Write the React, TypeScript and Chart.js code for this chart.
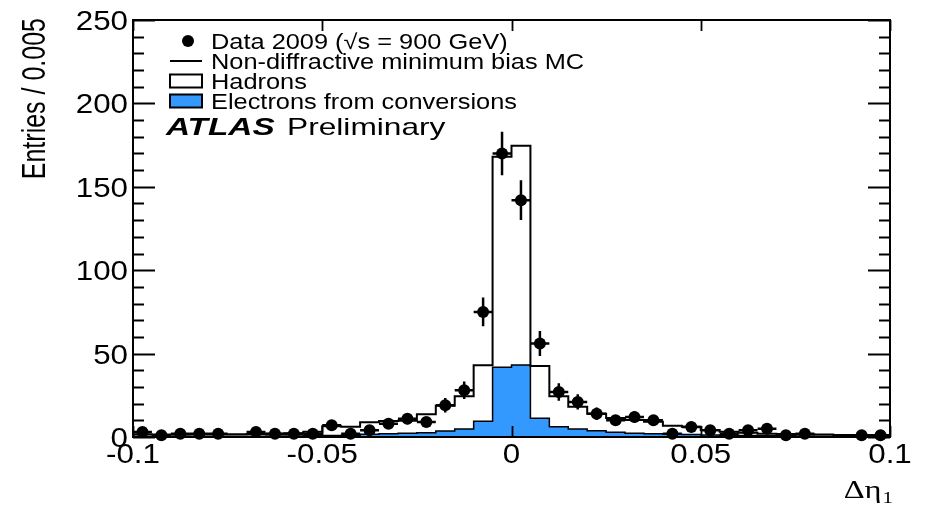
import React, { useEffect, useRef } from 'react';
import { Chart, registerables } from 'chart.js';

Chart.register(...registerables);

// ---------- data ----------
const binLowEdges = [
  -0.1, -0.095, -0.09, -0.085, -0.08, -0.075, -0.07, -0.065, -0.06, -0.055,
  -0.05, -0.045, -0.04, -0.035, -0.03, -0.025, -0.02, -0.015, -0.01, -0.005,
  0, 0.005, 0.01, 0.015, 0.02, 0.025, 0.03, 0.035, 0.04, 0.045,
  0.05, 0.055, 0.06, 0.065, 0.07, 0.075, 0.08, 0.085, 0.09, 0.095,
];
const binWidth = 0.005;
const xMin = -0.1;
const xMax = 0.1;
const yMin = 0;
const yMax = 250;

// Data 2009 (entries per bin, null = empty bin)
const dataCounts: (number | null)[] = [
  3, 1, 2, 2, 2, null, 3, 2, 2, 2,
  7, 2, 4, 8, 11, 9, 19, 28, 75, 170,
  142, 56, 27, 21, 14, 10, 12, 10, 2, 6,
  4, 2, 4, 5, 1, 2, null, null, 1, 1,
];

// Non-diffractive minimum bias MC (hadrons + electrons, stacked total)
const mcTotal = [
  1.6, 1.5, 1.5, 1.6, 1.6, 1.7, 1.8, 2.0, 2.2, 3.2,
  6.5, 6.2, 8.8, 9.6, 9.8, 13.6, 18.8, 24.4, 43.0, 168.0,
  174.6, 42.6, 24.4, 18.2, 14.0, 11.4, 10.2, 9.2, 6.8, 6.2,
  4.2, 3.2, 2.6, 2.0, 1.8, 1.6, 1.5, 1.2, 1.2, 1.1,
];

// Electrons from conversions
const mcElectrons = [
  0.4, 0.4, 0.4, 0.4, 0.4, 0.5, 0.5, 0.6, 0.6, 0.7,
  0.9, 1.1, 1.6, 2.0, 2.2, 2.6, 3.6, 4.8, 9.5, 41.8,
  43.2, 11.3, 6.2, 4.8, 3.7, 2.9, 2.3, 2.0, 1.7, 1.5,
  1.2, 1.0, 0.9, 0.8, 0.7, 0.6, 0.5, 0.5, 0.4, 0.4,
];

const xTickValues = [-0.1, -0.05, 0, 0.05, 0.1];
const xTickLabels = ['-0.1', '-0.05', '0', '0.05', '0.1'];
const yTickValues = [0, 50, 100, 150, 200, 250];
const yTickLabels = ['0', '50', '100', '150', '200', '250'];
const yMinorStep = 10;

const legendLabels = [
  'Data 2009 (\u221As = 900 GeV)',
  'Non-diffractive minimum bias MC',
  'Hadrons',
  'Electrons from conversions',
];
const yAxisTitle = 'Entries / 0.005';
const xAxisTitle = '\u0394\u03B7';
const xAxisTitleSub = '1';

const ELECTRON_BLUE = '#3399ff';
const FONT = '"Liberation Sans", Arial, Helvetica, sans-serif';
const SERIF = '"Liberation Serif", "DejaVu Serif", serif';

// ---------- helpers ----------
function histPoints(vals: number[]) {
  const pts = vals.map((v, i) => ({ x: binLowEdges[i], y: v }));
  pts.push({ x: xMax, y: vals[vals.length - 1] });
  return pts;
}

function stretchText(
  ctx: CanvasRenderingContext2D,
  text: string,
  x: number,
  y: number,
  font: string,
  sx: number,
  align: 'left' | 'right' | 'center',
  baseline: CanvasTextBaseline = 'alphabetic'
) {
  ctx.save();
  ctx.font = font;
  ctx.textBaseline = baseline;
  ctx.textAlign = 'left';
  const w = ctx.measureText(text).width * sx;
  const x0 = align === 'left' ? x : align === 'right' ? x - w : x - w / 2;
  ctx.translate(x0, y);
  ctx.scale(sx, 1);
  ctx.fillStyle = '#000';
  ctx.fillText(text, 0, 0);
  ctx.restore();
  return w;
}

const rootStylePlugin = {
  id: 'rootStyle',
  afterDatasetsDraw(chart: any) {
    const { ctx, chartArea, scales } = chart;
    const { left, right, top, bottom } = chartArea;
    const xs = scales.x;
    const ys = scales.y;

    // error bars for data
    ctx.save();
    ctx.strokeStyle = '#000';
    ctx.lineWidth = 2.5;
    dataCounts.forEach((v, i) => {
      if (v == null) return;
      const cx = binLowEdges[i] + binWidth / 2;
      const err = Math.sqrt(v);
      const px = xs.getPixelForValue(cx);
      const py = ys.getPixelForValue(v);
      ctx.beginPath();
      ctx.moveTo(px, ys.getPixelForValue(Math.max(0, v - err)));
      ctx.lineTo(px, ys.getPixelForValue(v + err));
      ctx.moveTo(xs.getPixelForValue(binLowEdges[i]), py);
      ctx.lineTo(xs.getPixelForValue(binLowEdges[i] + binWidth), py);
      ctx.stroke();
    });
    ctx.restore();

    // frame
    ctx.save();
    ctx.strokeStyle = '#000';
    ctx.lineWidth = 2;
    ctx.strokeRect(left, top, right - left, bottom - top);

    // y ticks (major + minor), inside, both sides
    ctx.lineWidth = 1.8;
    ctx.beginPath();
    for (let v = yMin; v <= yMax + 1e-9; v += yMinorStep) {
      const py = Math.round(ys.getPixelForValue(v)) + 0.5;
      const major = yTickValues.includes(v);
      const len = major ? 22 : 11;
      ctx.moveTo(left, py);
      ctx.lineTo(left + len, py);
      ctx.moveTo(right, py);
      ctx.lineTo(right - len, py);
    }
    // x ticks, inside, top and bottom
    xTickValues.forEach((v) => {
      const px = Math.round(xs.getPixelForValue(v)) + 0.5;
      ctx.moveTo(px, bottom);
      ctx.lineTo(px, bottom - 11);
      ctx.moveTo(px, top);
      ctx.lineTo(px, top + 11);
    });
    ctx.stroke();
    ctx.restore();

    // tick labels
    const tickFont = `27px ${FONT}`;
    const tickSx = 1.16;
    yTickValues.forEach((v, i) => {
      stretchText(ctx, yTickLabels[i], left - 5, ys.getPixelForValue(v) + 10, tickFont, tickSx, 'right', 'alphabetic');
    });
    xTickValues.forEach((v, i) => {
      stretchText(ctx, xTickLabels[i], xs.getPixelForValue(v), bottom + 26, tickFont, tickSx, 'center', 'alphabetic');
    });

    // y axis title (rotated, aligned to top)
    ctx.save();
    ctx.translate(45, top - 2);
    ctx.rotate(-Math.PI / 2);
    ctx.scale(1, 1.3);
    ctx.font = `25px ${FONT}`;
    ctx.textAlign = 'right';
    ctx.textBaseline = 'alphabetic';
    ctx.fillStyle = '#000';
    ctx.fillText(yAxisTitle, 0, 0);
    ctx.restore();

    // x axis title
    ctx.save();
    ctx.font = `16px ${SERIF}`;
    const subW = ctx.measureText(xAxisTitleSub).width * 1.3;
    ctx.restore();
    const subX = right + 3 - subW;
    stretchText(ctx, xAxisTitleSub, subX, bottom + 66, `16px ${SERIF}`, 1.3, 'left');
    stretchText(ctx, xAxisTitle, subX - 1, bottom + 61, `26px ${SERIF}`, 1.25, 'right');

    // legend
    const lf = `21.5px ${FONT}`;
    const sx = 1.18;
    const textX = left + 78;
    const boxL = left + 37;
    const boxR = left + 69;
    const rows = [41, 61, 81, 101];
    ctx.save();
    ctx.fillStyle = '#000';
    ctx.beginPath();
    ctx.arc((boxL + boxR) / 2 + 2, rows[0], 6, 0, Math.PI * 2);
    ctx.fill();
    ctx.strokeStyle = '#000';
    ctx.lineWidth = 2;
    ctx.beginPath();
    ctx.moveTo(boxL, rows[1]);
    ctx.lineTo(boxR, rows[1]);
    ctx.stroke();
    ctx.strokeRect(boxL, rows[2] - 6.5, boxR - boxL, 13);
    ctx.fillStyle = ELECTRON_BLUE;
    ctx.fillRect(boxL, rows[3] - 6.5, boxR - boxL, 13);
    ctx.strokeRect(boxL, rows[3] - 6.5, boxR - boxL, 13);
    ctx.restore();
    legendLabels.forEach((t, i) => {
      stretchText(ctx, t, textX, rows[i] + 7.5, lf, sx, 'left');
    });

    // ATLAS Preliminary
    stretchText(ctx, 'ATLAS', left + 33, 135, `italic bold 24px ${FONT}`, 1.39, 'left');
    stretchText(ctx, 'Preliminary', left + 154, 135, `24px ${FONT}`, 1.32, 'left');
  },
};

export default function App() {
  const canvasRef = useRef<HTMLCanvasElement | null>(null);

  useEffect(() => {
    document.body.style.margin = '0';
    const canvas = canvasRef.current;
    if (!canvas) return;

    const dataPoints = dataCounts
      .map((v, i) => (v == null ? null : { x: binLowEdges[i] + binWidth / 2, y: v }))
      .filter((p) => p !== null);

    const chart = new Chart(canvas, {
      type: 'line',
      data: {
        datasets: [
          {
            label: legendLabels[0],
            data: dataPoints as any,
            showLine: false,
            pointRadius: 6,
            pointBackgroundColor: '#000',
            pointBorderColor: '#000',
            pointBorderWidth: 0,
            clip: false as any,
          },
          {
            label: legendLabels[1],
            data: histPoints(mcTotal),
            stepped: 'before',
            borderColor: '#000',
            borderWidth: 2,
            pointRadius: 0,
            fill: false,
          },
          {
            label: legendLabels[3],
            data: histPoints(mcElectrons),
            stepped: 'before',
            borderColor: '#000',
            borderWidth: 1.5,
            backgroundColor: ELECTRON_BLUE,
            fill: 'origin',
            pointRadius: 0,
          },
        ],
      },
      options: {
        animation: false,
        responsive: false,
        devicePixelRatio: 1,
        layout: { padding: { left: 133, right: 35, top: 20, bottom: 68 } },
        plugins: {
          legend: { display: false },
          tooltip: { enabled: false },
        },
        scales: {
          x: { type: 'linear', min: xMin, max: xMax, display: false },
          y: { type: 'linear', min: yMin, max: yMax, display: false },
        },
      },
      plugins: [rootStylePlugin],
    });

    return () => chart.destroy();
  }, []);

  return (
    <div style={{ width: 925, height: 505, background: '#fff' }}>
      <canvas ref={canvasRef} width={925} height={505} style={{ display: 'block' }} />
    </div>
  );
}
